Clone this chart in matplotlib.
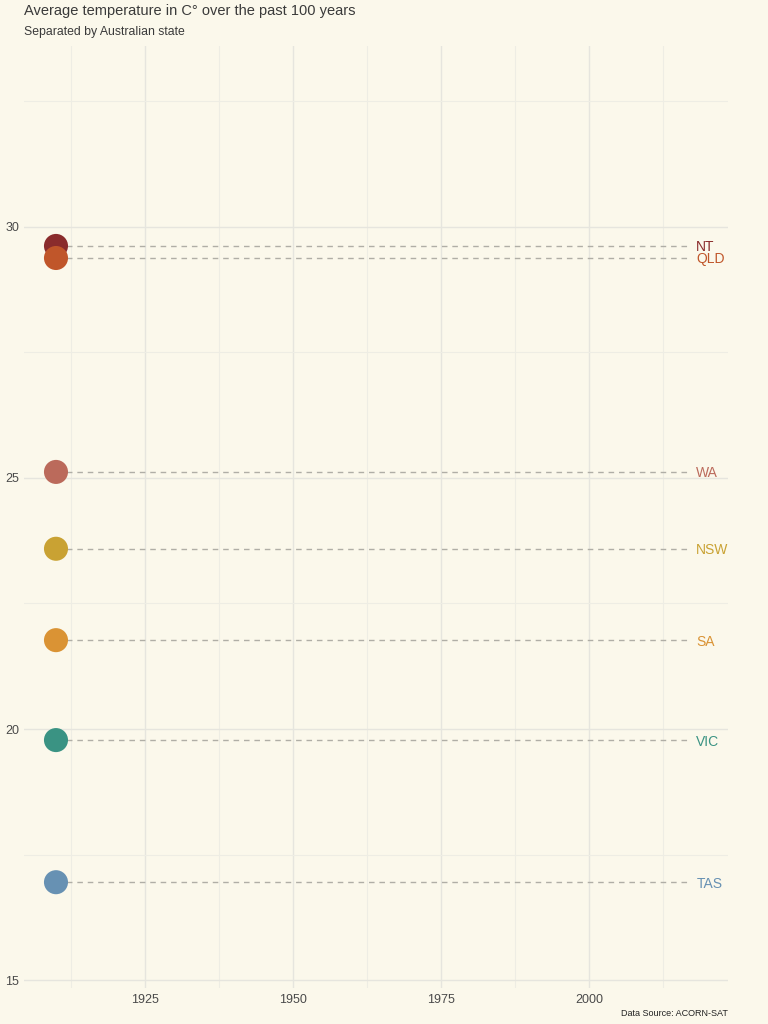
import matplotlib.pyplot as plt
import numpy as np

# data
states = ["NT", "QLD", "WA", "NSW", "SA", "VIC", "TAS"]
temps = [29.62, 29.38, 25.12, 23.59, 21.77, 19.78, 16.95]
colors = ["#8a2c2c", "#c0562a", "#bb6a5b", "#c9a233", "#da9334", "#3a9383", "#6791b3"]
start_year = 1910
end_year = 2017

bg = "#fbf8eb"
plt.rcParams["font.family"] = ["Liberation Sans", "DejaVu Sans"]
fig = plt.figure(figsize=(7.68, 10.24), dpi=100, facecolor=bg)
ax = fig.add_axes([0.03125, 0.035, 0.917, 0.92], facecolor=bg)

for s, t, c in zip(states, temps, colors):
    ax.plot([start_year, end_year], [t, t], ls=(0, (4, 3.5)), color="#b0aea6", lw=1.0, zorder=2)
    ax.scatter([start_year], [t], s=300, color=c, zorder=3, edgecolors="none")
    ax.text(end_year + 1.1, t, s, color=c, fontsize=10, va="center_baseline", ha="left")

ax.set_xlim(1904.6, 2023.5)
ax.set_ylim(14.84, 33.6)
ax.set_xticks([1925, 1950, 1975, 2000])
ax.set_yticks([15, 20, 25, 30])
ax.set_xticks(np.arange(1912.5, 2020, 25), minor=True)
ax.set_yticks([17.5, 22.5, 27.5, 32.5], minor=True)
ax.grid(which="major", color="#e6e5de", lw=1.0, zorder=0)
ax.grid(which="minor", color="#eeede4", lw=0.8, zorder=0)
ax.tick_params(which="both", length=0, labelsize=9, labelcolor="#4a4a4a")
ax.tick_params(axis="x", pad=4)
ax.tick_params(axis="y", pad=3.5)
for sp in ax.spines.values():
    sp.set_visible(False)

fig.text(24 / 768, 1 - 11 / 1024, "Average temperature in C° over the past 100 years",
         fontsize=10.5, color="#3a3a3a", va="center", ha="left")
fig.text(24 / 768, 1 - 32 / 1024, "Separated by Australian state",
         fontsize=8.8, color="#3a3a3a", va="center", ha="left")
fig.text(728 / 768, 1 - 1013 / 1024, "Data Source: ACORN-SAT",
         fontsize=6.5, color="#222222", va="center", ha="right")

fig.savefig("out.png", dpi=100, facecolor=bg)
